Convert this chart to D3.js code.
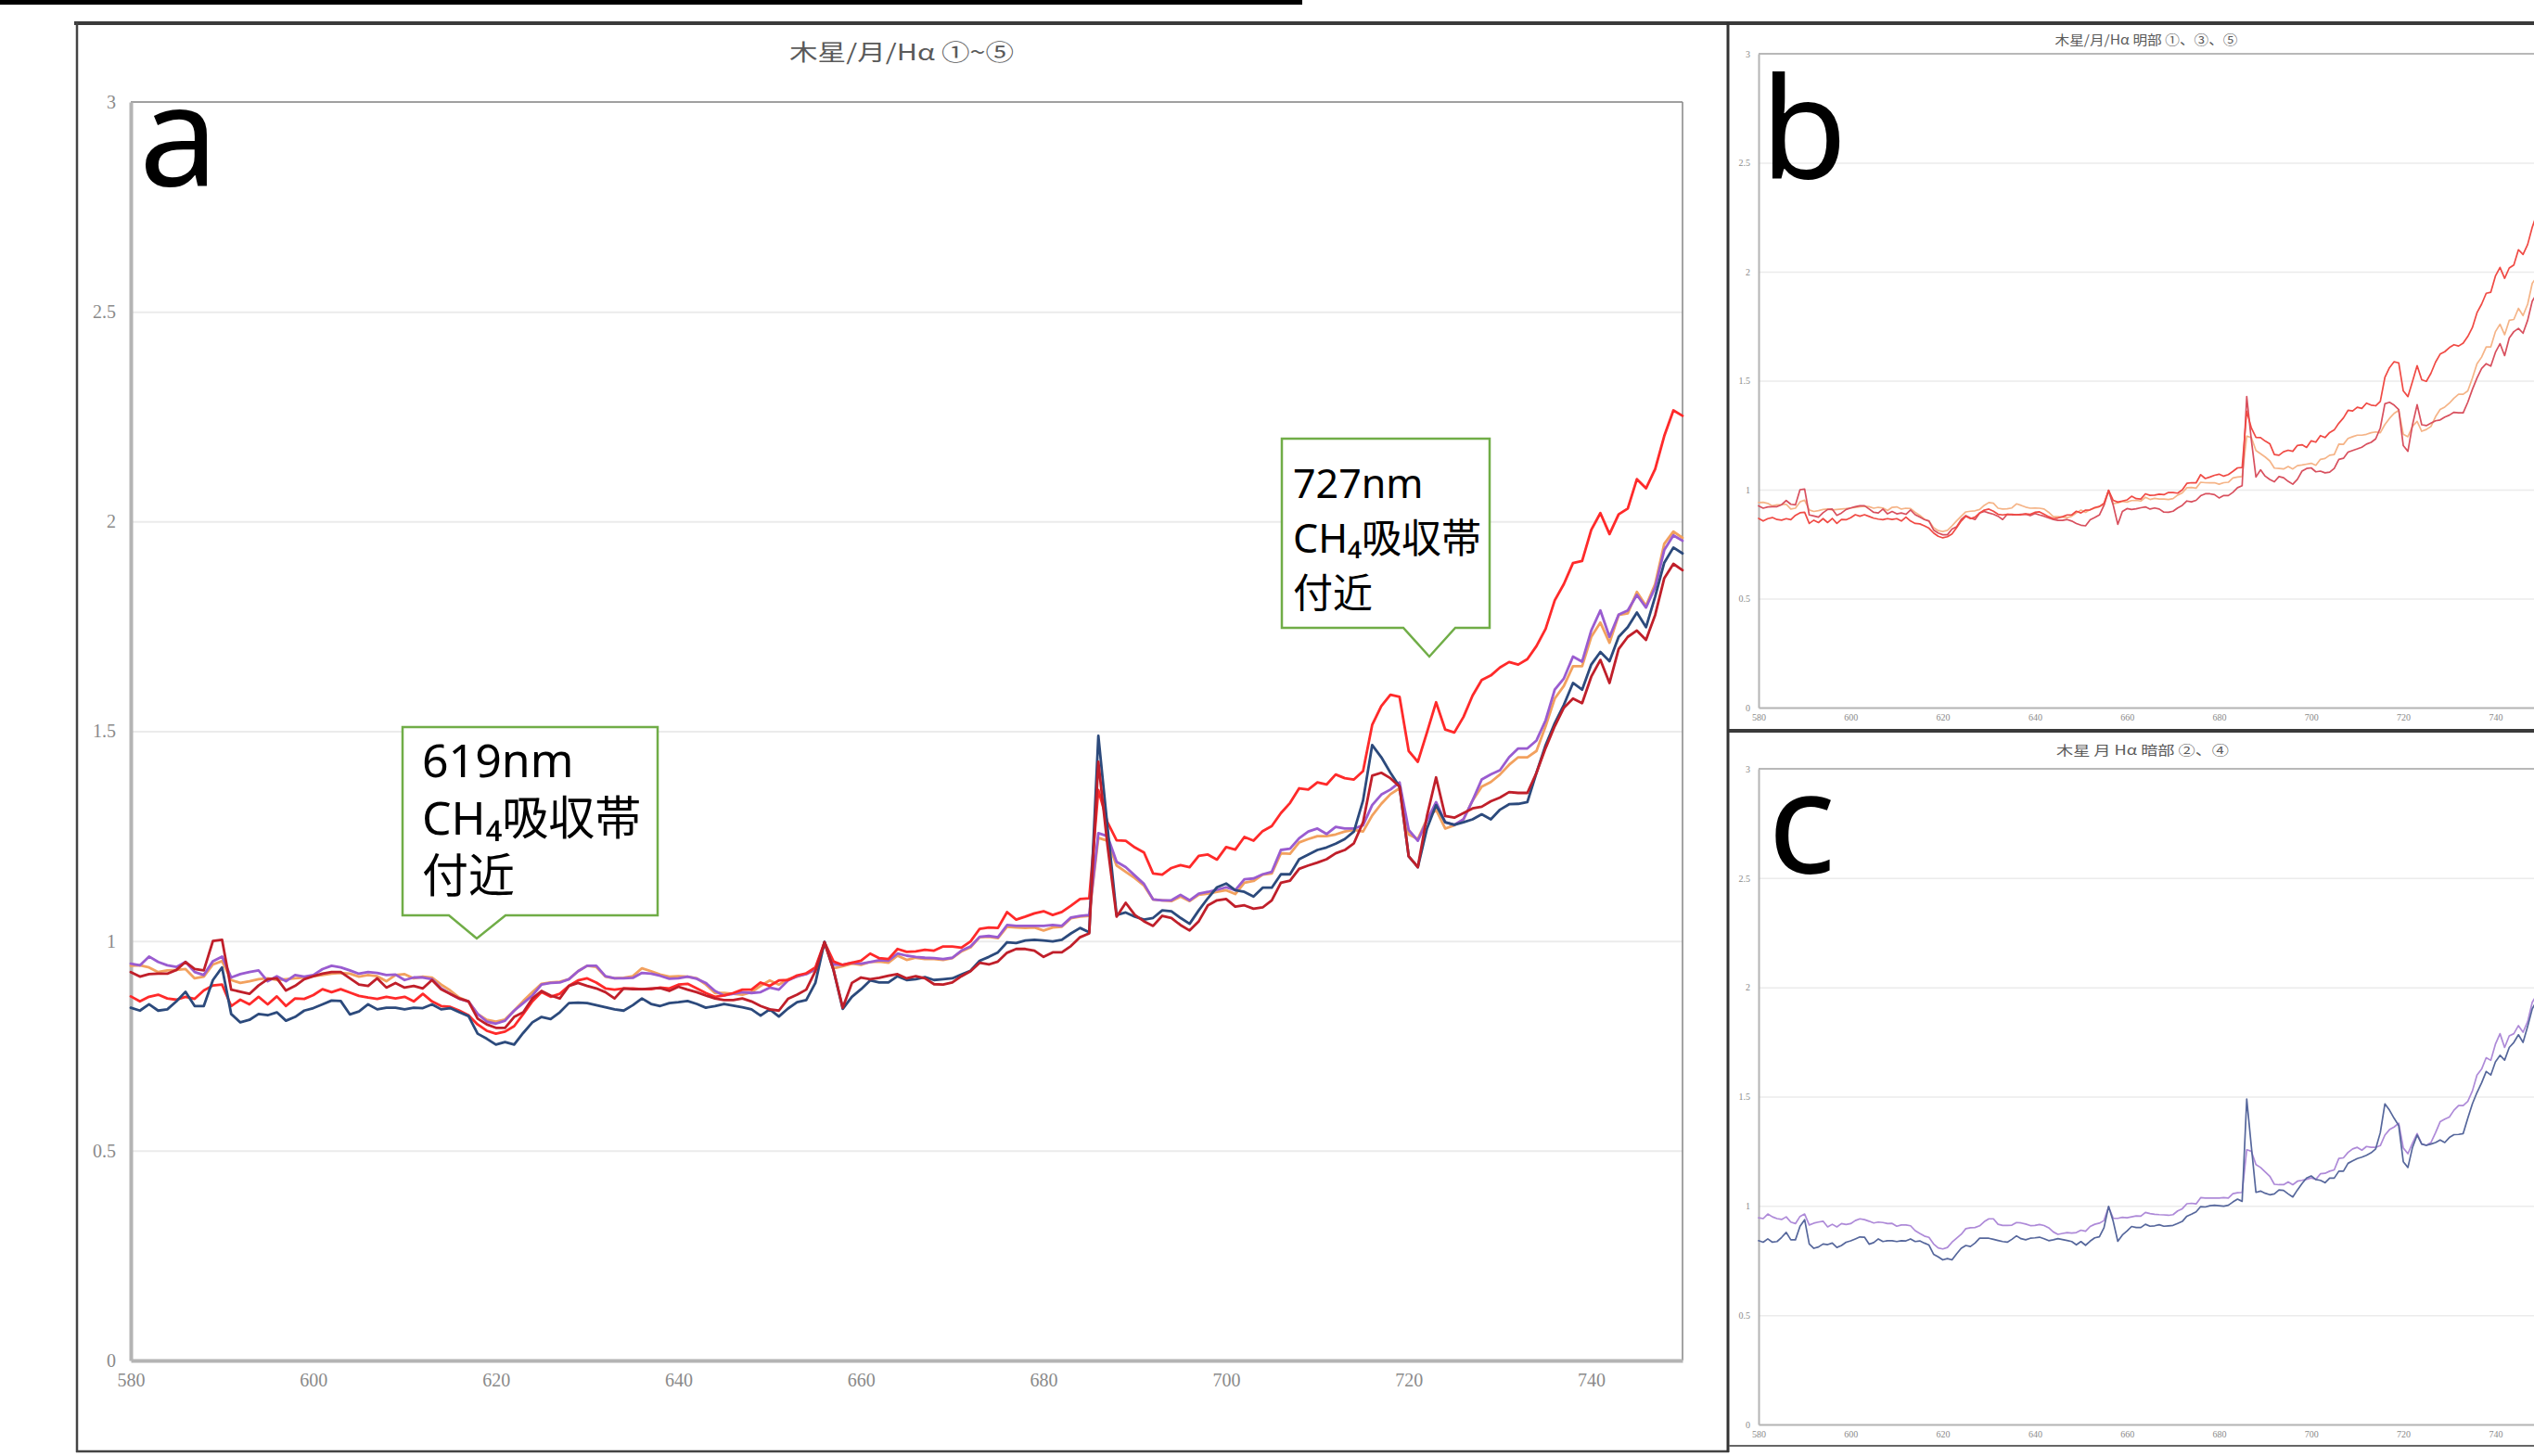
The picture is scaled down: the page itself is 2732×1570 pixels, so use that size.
<!DOCTYPE html>
<html>
<head>
<meta charset="utf-8">
<script src="https://cdn.jsdelivr.net/npm/d3@7/dist/d3.min.js"></script>
<style>
  body { margin: 0; background: #fff; }
  svg { display: block; }
</style>
</head>
<body>
<svg id="fig" width="2732" height="1570"></svg>
<script>
// wavelength axis, 1 nm steps 580..750
var wavelengths = d3.range(580, 751);

var xTicks = [580, 600, 620, 640, 660, 680, 700, 720, 740];
var yTicks = [0, 0.5, 1, 1.5, 2, 2.5, 3];
var yTickLabels = ['0', '0.5', '1', '1.5', '2', '2.5', '3'];

// Jupiter / Moon / H-alpha ratio, spectra ①..⑤
var spec1 = [ // ① bright red
  0.868,0.856,0.867,0.872,0.863,0.860,0.867,0.862,0.882,0.894,
  0.896,0.845,0.860,0.849,0.867,0.849,0.868,0.845,0.863,0.862,
  0.871,0.885,0.878,0.885,0.877,0.869,0.865,0.862,0.867,0.863,
  0.867,0.856,0.874,0.856,0.845,0.843,0.834,0.823,0.801,0.786,
  0.779,0.784,0.797,0.826,0.856,0.878,0.867,0.874,0.893,0.906,
  0.911,0.901,0.887,0.884,0.887,0.887,0.885,0.885,0.889,0.887,
  0.896,0.898,0.887,0.876,0.867,0.870,0.876,0.884,0.884,0.901,
  0.893,0.906,0.907,0.918,0.923,0.937,0.997,0.951,0.943,0.948,
  0.953,0.970,0.959,0.957,0.981,0.974,0.975,0.979,0.977,0.987,
  0.987,0.984,0.999,1.029,1.032,1.031,1.069,1.051,1.058,1.066,
  1.071,1.062,1.069,1.084,1.100,1.102,1.360,1.283,1.240,1.239,
  1.223,1.211,1.161,1.158,1.174,1.181,1.176,1.203,1.206,1.194,
  1.224,1.218,1.248,1.239,1.262,1.274,1.305,1.329,1.364,1.361,
  1.378,1.373,1.397,1.388,1.385,1.405,1.515,1.560,1.587,1.582,
  1.453,1.427,1.497,1.569,1.504,1.497,1.534,1.585,1.622,1.633,
  1.652,1.665,1.659,1.672,1.703,1.744,1.812,1.851,1.901,1.906,
  1.980,2.020,1.970,2.017,2.031,2.101,2.079,2.125,2.204,2.265,
  2.252
];
var spec2 = [ // ② purple
  0.946,0.942,0.963,0.950,0.942,0.938,0.950,0.926,0.919,0.952,
  0.963,0.913,0.921,0.926,0.930,0.904,0.916,0.904,0.919,0.915,
  0.919,0.933,0.941,0.937,0.930,0.922,0.926,0.924,0.919,0.920,
  0.907,0.913,0.913,0.909,0.887,0.874,0.862,0.856,0.826,0.808,
  0.803,0.810,0.834,0.852,0.870,0.896,0.900,0.901,0.909,0.928,
  0.941,0.941,0.916,0.911,0.911,0.912,0.924,0.922,0.917,0.910,
  0.911,0.915,0.910,0.900,0.881,0.870,0.874,0.878,0.876,0.878,
  0.889,0.884,0.906,0.916,0.921,0.933,0.995,0.944,0.943,0.948,
  0.946,0.950,0.954,0.953,0.970,0.965,0.962,0.960,0.959,0.957,
  0.960,0.977,0.987,1.010,1.012,1.009,1.038,1.036,1.036,1.036,
  1.036,1.038,1.036,1.056,1.060,1.062,1.257,1.250,1.189,1.176,
  1.156,1.136,1.099,1.097,1.097,1.110,1.097,1.113,1.117,1.122,
  1.128,1.121,1.147,1.149,1.159,1.165,1.217,1.220,1.245,1.261,
  1.268,1.255,1.272,1.268,1.268,1.276,1.324,1.349,1.361,1.378,
  1.265,1.239,1.287,1.331,1.283,1.277,1.290,1.335,1.385,1.397,
  1.407,1.438,1.459,1.459,1.478,1.526,1.599,1.626,1.678,1.666,
  1.740,1.788,1.725,1.778,1.788,1.825,1.795,1.843,1.932,1.967,
  1.954
];
var spec3 = [ // ③ orange
  0.941,0.942,0.937,0.926,0.930,0.931,0.933,0.911,0.915,0.944,
  0.952,0.907,0.900,0.904,0.909,0.911,0.907,0.909,0.911,0.913,
  0.916,0.919,0.922,0.924,0.922,0.915,0.919,0.916,0.904,0.919,
  0.921,0.911,0.915,0.913,0.896,0.882,0.865,0.856,0.826,0.812,
  0.808,0.813,0.834,0.857,0.878,0.898,0.901,0.903,0.909,0.928,
  0.941,0.938,0.915,0.911,0.912,0.916,0.935,0.928,0.920,0.915,
  0.916,0.915,0.911,0.896,0.876,0.876,0.874,0.872,0.878,0.893,
  0.906,0.896,0.909,0.915,0.922,0.931,0.994,0.935,0.940,0.946,
  0.943,0.950,0.951,0.948,0.965,0.955,0.960,0.957,0.957,0.955,
  0.959,0.975,0.985,1.009,1.010,1.007,1.034,1.032,1.031,1.032,
  1.025,1.032,1.034,1.054,1.058,1.060,1.246,1.239,1.180,1.165,
  1.150,1.132,1.099,1.097,1.095,1.106,1.095,1.110,1.113,1.117,
  1.121,1.112,1.139,1.143,1.158,1.161,1.209,1.208,1.235,1.243,
  1.250,1.250,1.254,1.261,1.265,1.261,1.299,1.327,1.350,1.364,
  1.254,1.243,1.291,1.313,1.268,1.276,1.290,1.335,1.368,1.379,
  1.397,1.420,1.438,1.438,1.453,1.512,1.578,1.608,1.655,1.655,
  1.725,1.759,1.711,1.777,1.781,1.832,1.799,1.851,1.947,1.976,
  1.961
];
var spec4 = [ // ④ dark blue
  0.841,0.834,0.849,0.834,0.837,0.856,0.879,0.845,0.845,0.907,
  0.937,0.826,0.806,0.812,0.826,0.823,0.830,0.810,0.819,0.834,
  0.840,0.849,0.858,0.857,0.825,0.832,0.849,0.837,0.841,0.841,
  0.837,0.841,0.840,0.849,0.837,0.840,0.830,0.821,0.779,0.767,
  0.753,0.759,0.753,0.781,0.806,0.819,0.814,0.830,0.852,0.853,
  0.852,0.847,0.842,0.837,0.834,0.847,0.863,0.850,0.845,0.852,
  0.854,0.857,0.850,0.841,0.845,0.850,0.846,0.842,0.837,0.822,
  0.837,0.820,0.839,0.854,0.859,0.900,0.998,0.930,0.838,0.867,
  0.885,0.906,0.901,0.901,0.916,0.907,0.909,0.914,0.907,0.909,
  0.911,0.920,0.929,0.953,0.962,0.973,0.997,0.995,1.001,1.003,
  1.001,0.999,1.003,1.018,1.031,1.021,1.489,1.272,1.062,1.068,
  1.058,1.051,1.055,1.073,1.071,1.055,1.041,1.073,1.102,1.128,
  1.137,1.121,1.117,1.106,1.127,1.127,1.159,1.159,1.195,1.206,
  1.217,1.223,1.232,1.243,1.261,1.335,1.467,1.438,1.401,1.368,
  1.202,1.176,1.268,1.324,1.283,1.277,1.283,1.290,1.302,1.290,
  1.313,1.326,1.327,1.331,1.401,1.467,1.519,1.563,1.615,1.599,
  1.659,1.689,1.667,1.725,1.748,1.783,1.748,1.821,1.902,1.938,
  1.924
];
var spec5 = [ // ⑤ dark red
  0.926,0.915,0.921,0.922,0.922,0.931,0.950,0.933,0.930,1.000,
  1.003,0.884,0.879,0.874,0.894,0.909,0.911,0.882,0.893,0.909,
  0.916,0.922,0.926,0.926,0.911,0.896,0.893,0.911,0.889,0.900,
  0.889,0.893,0.887,0.907,0.885,0.874,0.863,0.856,0.815,0.801,
  0.793,0.793,0.819,0.830,0.863,0.881,0.870,0.863,0.893,0.900,
  0.893,0.887,0.878,0.863,0.887,0.885,0.885,0.887,0.888,0.881,
  0.891,0.884,0.878,0.870,0.863,0.859,0.859,0.863,0.856,0.845,
  0.837,0.834,0.862,0.872,0.884,0.928,0.997,0.930,0.841,0.900,
  0.913,0.909,0.912,0.917,0.921,0.911,0.916,0.911,0.897,0.896,
  0.901,0.916,0.928,0.948,0.944,0.951,0.972,0.981,0.981,0.977,
  0.962,0.973,0.973,0.988,1.009,1.018,1.427,1.228,1.058,1.091,
  1.062,1.047,1.036,1.060,1.055,1.038,1.025,1.047,1.085,1.097,
  1.100,1.082,1.085,1.077,1.080,1.097,1.139,1.144,1.172,1.180,
  1.187,1.195,1.209,1.217,1.233,1.283,1.394,1.401,1.388,1.368,
  1.202,1.176,1.298,1.390,1.298,1.294,1.305,1.316,1.320,1.333,
  1.342,1.355,1.353,1.353,1.401,1.460,1.512,1.556,1.578,1.567,
  1.630,1.670,1.615,1.696,1.725,1.740,1.718,1.777,1.865,1.899,
  1.884
];

var svg = d3.select('#fig');

// ---- figure frame -------------------------------------------------------
svg.append('rect').attr('x', 0).attr('y', 0).attr('width', 1404).attr('height', 5).attr('fill', '#000');
svg.append('line').attr('x1', 80).attr('x2', 2732).attr('y1', 25).attr('y2', 25)
  .attr('stroke', '#3a3a3a').attr('stroke-width', 4);
// panel a border
svg.append('line').attr('x1', 83).attr('x2', 83).attr('y1', 24).attr('y2', 1566).attr('stroke', '#444').attr('stroke-width', 2.5);
svg.append('line').attr('x1', 82).attr('x2', 1864).attr('y1', 1565).attr('y2', 1565).attr('stroke', '#444').attr('stroke-width', 2.5);
svg.append('line').attr('x1', 1863).attr('x2', 1863).attr('y1', 24).attr('y2', 1566).attr('stroke', '#333').attr('stroke-width', 3);
// panel b / c borders
svg.append('line').attr('x1', 1864).attr('x2', 2732).attr('y1', 788).attr('y2', 788).attr('stroke', '#3a3a3a').attr('stroke-width', 4);
svg.append('line').attr('x1', 1864).attr('x2', 2732).attr('y1', 1559).attr('y2', 1559).attr('stroke', '#666').attr('stroke-width', 2);

function drawPanel(p) {
  var x = d3.scaleLinear().domain([580, 750]).range([p.left, p.right]);
  var y = d3.scaleLinear().domain([0, 3]).range([p.bottom, p.top]);
  var g = svg.append('g');

  // horizontal gridlines
  var grid = g.append('g').attr('transform', 'translate(' + p.left + ',0)')
    .call(d3.axisLeft(y).tickValues(yTicks.slice(1, 6)).tickSize(-(p.right - p.left)).tickFormat(''));
  grid.select('.domain').remove();
  grid.selectAll('.tick line').attr('stroke', '#ebebeb').attr('stroke-width', p.gridW);

  // plot frame
  g.append('line').attr('x1', p.left).attr('x2', p.right).attr('y1', p.top).attr('y2', p.top)
    .attr('stroke', '#a0a0a0').attr('stroke-width', p.frameW);
  g.append('line').attr('x1', p.right).attr('x2', p.right).attr('y1', p.top).attr('y2', p.bottom)
    .attr('stroke', '#8c8c8c').attr('stroke-width', p.frameW * 0.8);

  // y axis
  var ya = g.append('g').attr('transform', 'translate(' + p.left + ',0)')
    .call(d3.axisLeft(y).tickValues(yTicks).tickSize(0).tickPadding(p.yPad)
      .tickFormat(function (d, i) { return yTickLabels[i]; }));
  ya.select('.domain').attr('stroke', '#b4b4b4').attr('stroke-width', p.axisW);
  ya.selectAll('text').attr('font-family', 'Liberation Serif, serif').attr('font-size', p.tickFont)
    .attr('fill', '#8a8a8a');

  // x axis
  var xa = g.append('g').attr('transform', 'translate(0,' + p.bottom + ')')
    .call(d3.axisBottom(x).tickValues(xTicks).tickSize(0).tickPadding(p.xPad).tickFormat(d3.format('d')));
  xa.select('.domain').attr('stroke', '#b4b4b4').attr('stroke-width', p.axisW);
  xa.selectAll('text').attr('font-family', 'Liberation Serif, serif').attr('font-size', p.tickFont)
    .attr('fill', '#8a8a8a');

  // spectra
  var line = d3.line().x(function (d, i) { return x(wavelengths[i]); }).y(function (d) { return y(d); });
  p.series.forEach(function (s) {
    g.append('path').datum(s.values).attr('d', line).attr('fill', 'none')
      .attr('stroke', s.color).attr('stroke-width', p.lineW)
      .attr('stroke-linejoin', 'round').attr('stroke-linecap', 'round');
  });

  // chart title
  g.append('text').attr('x', p.titleX).attr('y', p.titleY).attr('text-anchor', 'middle')
    .attr('dominant-baseline', 'central').attr('font-family', 'Noto Sans CJK JP, sans-serif')
    .attr('font-size', p.titleFont).attr('fill', '#5a5a5a')
    .attr('textLength', p.titleLen).attr('lengthAdjust', 'spacingAndGlyphs')
    .text(p.title);

  // panel letter
  g.append('text').attr('x', p.letterX).attr('y', p.letterY)
    .attr('font-family', 'Noto Sans, sans-serif').attr('font-size', 152).attr('fill', '#000')
    .text(p.letter);
  return { x: x, y: y };
}

drawPanel({
  left: 141, right: 1814, top: 110, bottom: 1467,
  gridW: 2, frameW: 2, axisW: 4, lineW: 2.8, tickFont: 20, yPad: 16, xPad: 14,
  title: '木星/月/Hα ①~⑤', titleX: 972, titleY: 54, titleFont: 24, titleLen: 242,
  letter: 'a', letterX: 150, letterY: 200,
  series: [
    { values: spec3, color: '#f2a15e' },
    { values: spec2, color: '#9a5cd0' },
    { values: spec1, color: '#ff2a2a' },
    { values: spec4, color: '#2c4a7c' },
    { values: spec5, color: '#c01f2a' }
  ]
});

drawPanel({
  left: 1896, right: 1896 + 170 * 4.965, top: 58, bottom: 763,
  gridW: 1.5, frameW: 1.5, axisW: 2, lineW: 1.7, tickFont: 10, yPad: 9, xPad: 7,
  title: '木星/月/Hα 明部 ①、③、⑤', titleX: 2314, titleY: 42, titleFont: 14, titleLen: 197,
  letter: 'b', letterX: 1898, letterY: 192,
  series: [
    { values: spec3, color: '#f5b487' },
    { values: spec5, color: '#d8505e' },
    { values: spec1, color: '#f04a44' }
  ]
});

drawPanel({
  left: 1896, right: 1896 + 170 * 4.965, top: 829, bottom: 1536,
  gridW: 1.5, frameW: 1.5, axisW: 2, lineW: 1.7, tickFont: 10, yPad: 9, xPad: 7,
  title: '木星 月 Hα 暗部 ②、④', titleX: 2310, titleY: 808, titleFont: 14, titleLen: 186,
  letter: 'c', letterX: 1906, letterY: 941,
  series: [
    { values: spec2, color: '#ae8ad8' },
    { values: spec4, color: '#56679c' }
  ]
});

// ---- callouts -----------------------------------------------------------
function callout(c) {
  var pts = [[c.x0, c.y0], [c.x1, c.y0], [c.x1, c.y1], [c.b1, c.y1], [c.tx, c.ty], [c.b0, c.y1], [c.x0, c.y1]];
  svg.append('path').attr('d', d3.line()(pts) + 'Z').attr('fill', '#fff')
    .attr('stroke', '#70ad47').attr('stroke-width', 2.5);
  var t = svg.append('text').attr('font-family', 'Noto Sans, DejaVu Sans, Noto Sans CJK JP, sans-serif')
    .attr('font-size', c.font).attr('fill', '#000');
  c.lines.forEach(function (s, i) {
    t.append('tspan').attr('x', c.textX).attr('y', c.base + i * c.lh).text(s);
  });
}

var note1 = ['619nm', 'CH₄吸収帯', '付近'];
var note2 = ['727nm', 'CH₄吸収帯', '付近'];

callout({ x0: 434, x1: 709, y0: 784, y1: 987, b0: 484, b1: 545, tx: 514, ty: 1012,
  textX: 455, base: 838, lh: 62, font: 50, lines: note1 });
callout({ x0: 1382, x1: 1606, y0: 473, y1: 677, b0: 1513, b1: 1569, tx: 1541, ty: 708,
  textX: 1394, base: 537, lh: 59, font: 43, lines: note2 });
</script>
</body>
</html>
